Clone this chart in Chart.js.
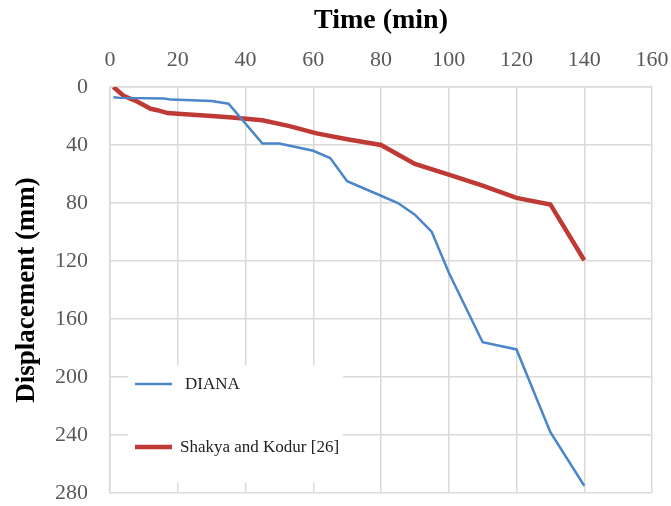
<!DOCTYPE html>
<html>
<head>
<meta charset="utf-8">
<script src="https://cdn.jsdelivr.net/npm/chart.js@4"></script>
<style>
  html, body { margin: 0; padding: 0; background: #fff; }
  #wrap { position: relative; width: 671px; height: 506px; }
</style>
</head>
<body>
<div id="wrap"><canvas id="chart"></canvas></div>
<script>
const dianaTime = [1, 3, 16, 18, 30, 35, 45, 50, 60, 65, 70, 80, 85, 90, 95, 100, 110, 120, 130, 140]
const dianaDisp = [7, 7.5, 8, 8.7, 9.6, 11.5, 39, 39, 44, 49, 65, 75, 80, 88, 100, 128, 176, 181, 238, 275]

const shakyaTime = [1, 4, 8, 12, 14, 17, 20, 30, 36, 45, 53, 61, 70, 80, 90, 100, 110, 120, 130, 140]
const shakyaDisp = [0, 6, 10, 15, 16, 18, 18.5, 20, 21, 23, 27, 32, 36, 40, 53, 60.5, 68, 76.5, 81, 119.5]

const seriesLabels = ['DIANA', 'Shakya and Kodur [26]']
const seriesColors = ['#4a86c8', '#bf3a35']

const SERIF = "'Liberation Serif', 'Times New Roman', serif"
const GRID = '#d9d9d9'

const toPoints = (xs, ys) => xs.map((x, i) => ({ x, y: ys[i] }))

// legend box sitting inside the plot, lower left
const insideLegend = {
  id: 'insideLegend',
  afterDraw(chart, args, opts) {
    const { ctx } = chart
    ctx.save()
    ctx.fillStyle = '#fff'
    ctx.fillRect(opts.left, opts.top, opts.width, opts.height)
    chart.data.datasets.forEach((ds, i) => {
      const y = opts.rows[i]
      ctx.strokeStyle = ds.borderColor
      ctx.lineWidth = ds.borderWidth
      ctx.beginPath()
      ctx.moveTo(opts.left + 7, y)
      ctx.lineTo(opts.left + 44, y)
      ctx.stroke()
      ctx.fillStyle = '#222'
      ctx.font = `17px ${SERIF}`
      ctx.textBaseline = 'middle'
      ctx.fillText(ds.label, opts.left + opts.textX[i], y + 1)
    })
    ctx.restore()
  },
}

new Chart(document.getElementById('chart'), {
  type: 'line',
  data: {
    datasets: [
      {
        label: seriesLabels[0],
        data: toPoints(dianaTime, dianaDisp),
        borderColor: seriesColors[0],
        borderWidth: 2.5,
        pointRadius: 0,
        tension: 0,
      },
      {
        label: seriesLabels[1],
        data: toPoints(shakyaTime, shakyaDisp),
        borderColor: seriesColors[1],
        borderWidth: 4.5,
        pointRadius: 0,
        tension: 0,
      },
    ],
  },
  options: {
    responsive: true,
    maintainAspectRatio: false,
    animation: false,
    layout: { padding: { top: 0, right: 19, bottom: 13, left: 8 } },
    plugins: {
      legend: { display: false },
      tooltip: { enabled: false },
      insideLegend: {
        left: 128,
        top: 365,
        width: 215,
        height: 118,
        rows: [384, 447],
        textX: [57, 52],
      },
    },
    scales: {
      x: {
        type: 'linear',
        position: 'top',
        min: 0,
        max: 160,
        afterFit(scale) {
          scale.height = 87
          scale.paddingLeft = 0
          scale.paddingRight = 0
        },
        ticks: {
          stepSize: 20,
          padding: 14,
          color: '#595959',
          font: { family: SERIF, size: 22 },
        },
        grid: { color: GRID, lineWidth: 1.5, drawTicks: false },
        border: { color: GRID, width: 1.5 },
        title: {
          display: true,
          text: 'Time (min)',
          color: '#000',
          font: { family: SERIF, size: 28, weight: 'bold' },
          padding: { top: 4, bottom: 0 },
        },
      },
      y: {
        type: 'linear',
        reverse: true,
        min: 0,
        max: 280,
        afterFit(scale) {
          scale.width = 102
          scale.paddingTop = 0
          scale.paddingBottom = 0
        },
        ticks: {
          stepSize: 40,
          padding: 22,
          color: '#595959',
          font: { family: SERIF, size: 22 },
        },
        grid: { color: GRID, lineWidth: 1.5, drawTicks: false },
        border: { color: GRID, width: 1.5 },
        title: {
          display: true,
          text: 'Displacement (mm)',
          color: '#000',
          font: { family: SERIF, size: 27, weight: 'bold' },
          padding: { top: 3, bottom: 0 },
        },
      },
    },
  },
  plugins: [insideLegend],
})
</script>
</body>
</html>
